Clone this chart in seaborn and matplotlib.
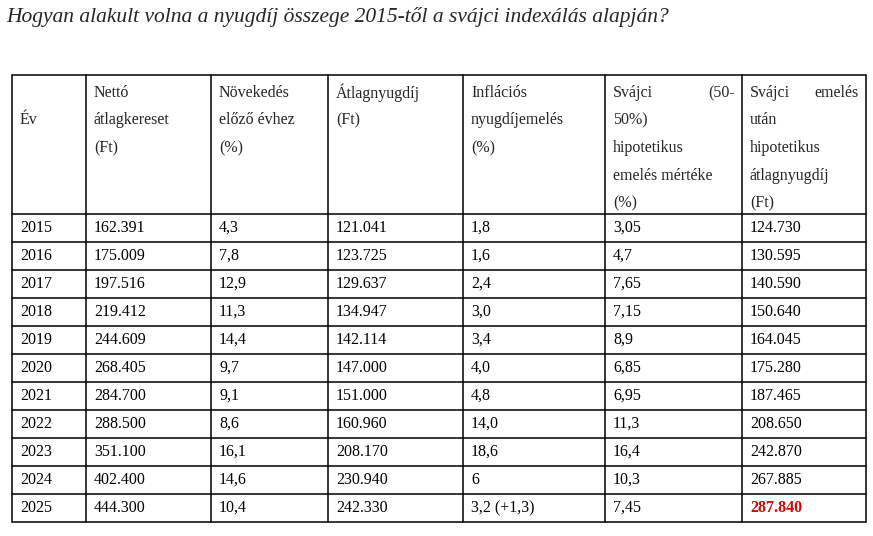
import matplotlib.pyplot as plt
import seaborn as sns

sns.set_style("white")
plt.rcParams["font.family"] = "Liberation Serif"

title = "Hogyan alakult volna a nyugdíj összege 2015-től a svájci indexálás alapján?"
headers = [
    ["Év"],
    ["Nettó", "átlagkereset", "(Ft)"],
    ["Növekedés", "előző évhez", "(%)"],
    ["Átlagnyugdíj", "(Ft)"],
    ["Inflációs", "nyugdíjemelés", "(%)"],
    ["Svájci (50-", "50%)", "hipotetikus", "emelés mértéke", "(%)"],
    ["Svájci emelés", "után", "hipotetikus", "átlagnyugdíj", "(Ft)"],
]
years = ["2015", "2016", "2017", "2018", "2019", "2020", "2021", "2022", "2023", "2024", "2025"]
net_wage = ["162.391", "175.009", "197.516", "219.412", "244.609", "268.405", "284.700",
            "288.500", "351.100", "402.400", "444.300"]
wage_growth = ["4,3", "7,8", "12,9", "11,3", "14,4", "9,7", "9,1", "8,6", "16,1", "14,6", "10,4"]
avg_pension = ["121.041", "123.725", "129.637", "134.947", "142.114", "147.000", "151.000",
               "160.960", "208.170", "230.940", "242.330"]
infl_raise = ["1,8", "1,6", "2,4", "3,0", "3,4", "4,0", "4,8", "14,0", "18,6", "6", "3,2 (+1,3)"]
swiss_raise = ["3,05", "4,7", "7,65", "7,15", "8,9", "6,85", "6,95", "11,3", "16,4", "10,3", "7,45"]
swiss_pension = ["124.730", "130.595", "140.590", "150.640", "164.045", "175.280", "187.465",
                 "208.650", "242.870", "267.885", "287.840"]

columns = [years, net_wage, wage_growth, avg_pension, infl_raise, swiss_raise, swiss_pension]
col_x = [12, 86, 211, 328, 463, 605, 742, 866]
head_top, head_bot, row_h = 75, 214, 28
fs = 11.5

fig = plt.figure(figsize=(8.73, 5.36), dpi=100)
ax = fig.add_axes([0, 0, 1, 1])
ax.set_xlim(0, 873)
ax.set_ylim(536, 0)
ax.axis("off")

ax.text(6, 17, title, fontsize=15.5, style="italic", va="center", ha="left")

n = len(years)
bottom = head_bot + n * row_h
lw = 1.1
for x in col_x:
    ax.plot([x, x], [head_top, bottom], color="black", lw=lw)
ax.plot([col_x[0], col_x[-1]], [head_top, head_top], color="black", lw=lw)
for i in range(n + 1):
    y = head_bot + i * row_h
    ax.plot([col_x[0], col_x[-1]], [y, y], color="black", lw=lw)

# header (first lines of the two last columns are justified)
justified = {"Svájci (50-": ("Svájci", "(50-"), "Svájci emelés": ("Svájci", "emelés")}
for c, lines in enumerate(headers):
    x0 = col_x[c] + 8
    if c == 0:
        ax.text(x0, 120, lines[0], fontsize=fs, va="center")
        continue
    for k, line in enumerate(lines):
        y = 93 + k * 27.5
        if line in justified:
            left, right = justified[line]
            ax.text(x0, y, left, fontsize=fs, va="center")
            ax.text(col_x[c + 1] - 7, y, right, fontsize=fs, va="center", ha="right")
        else:
            ax.text(x0, y, line, fontsize=fs, va="center")

# body
for c, vals in enumerate(columns):
    for r, v in enumerate(vals):
        y = head_bot + r * row_h + row_h / 2
        last = (c == len(columns) - 1 and r == n - 1)
        ax.text(col_x[c] + 8, y, v, fontsize=fs, va="center",
                color="#e00000" if last else "black",
                fontweight="bold" if last else "normal")

fig.savefig("out.png", dpi=100)
